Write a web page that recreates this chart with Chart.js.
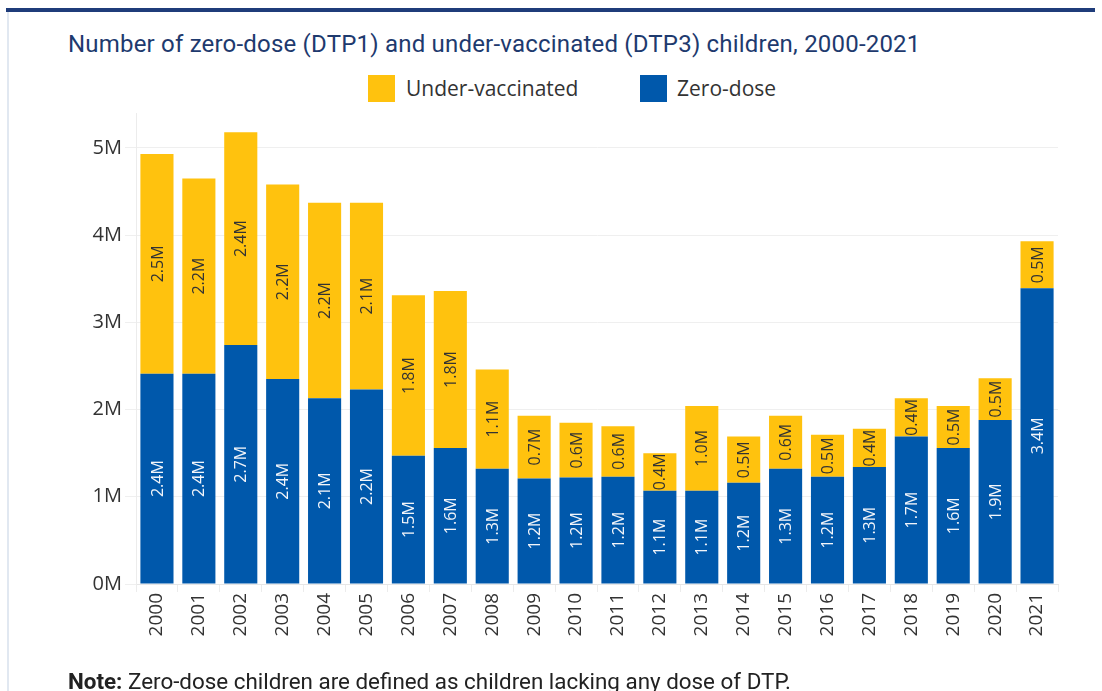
<!DOCTYPE html>
<html>
<head>
<meta charset="utf-8">
<script src="https://cdn.jsdelivr.net/npm/chart.js@4.4.1/dist/chart.umd.min.js"></script>
<style>
  body { margin: 0; background: #fff; width: 1102px; height: 691px; overflow: hidden; position: relative; }
  #topbar { position: absolute; left: 6px; top: 8px; width: 1089px; height: 4px; background: #1f3c7a; }
  #leftline { position: absolute; left: 7px; top: 12px; width: 2px; height: 680px; background: #e1e8f1; }
  #title { position: absolute; left: 68px; top: 30px; font-family: 'Roboto', sans-serif;
           font-size: 24px; letter-spacing: 0.2px; color: #1e3a6e; white-space: nowrap; }
  #legend { position: absolute; left: 368px; top: 75px; font-family: 'Open Sans', sans-serif; font-size: 21px; color: #333; }
  .box { position: absolute; top: 0; width: 27px; height: 27px; }
  .lbl { position: absolute; top: 0; line-height: 27px; white-space: nowrap; }
  #note { position: absolute; left: 68px; top: 668px; font-family: 'Roboto', sans-serif;
          font-size: 22.4px; color: #222; white-space: nowrap; }
  #wrap { position: absolute; left: 0; top: 0; width: 1102px; height: 691px; }
</style>
</head>
<body>
<div id="topbar"></div>
<div id="leftline"></div>
<div id="title">Number of zero-dose (DTP1) and under-vaccinated (DTP3) children, 2000-2021</div>
<div id="legend">
  <div class="box" style="left:0; background:#ffc20e"></div>
  <div class="lbl" style="left:38px">Under-vaccinated</div>
  <div class="box" style="left:272px; background:#0058ab"></div>
  <div class="lbl" style="left:309px">Zero-dose</div>
</div>
<div id="wrap"><canvas id="chart" width="1102" height="691"></canvas></div>
<div id="note"><b>Note:</b> Zero-dose children are defined as children lacking any dose of DTP.</div>

<script>
// data (millions of children)
var years = ["2000","2001","2002","2003","2004","2005","2006","2007","2008","2009","2010",
             "2011","2012","2013","2014","2015","2016","2017","2018","2019","2020","2021"];
var zeroDose = [2.41, 2.41, 2.74, 2.35, 2.13, 2.23, 1.47, 1.56, 1.32, 1.21, 1.22,
                1.23, 1.07, 1.07, 1.16, 1.32, 1.23, 1.34, 1.69, 1.56, 1.88, 3.39];
var underVaccinated = [2.52, 2.24, 2.44, 2.23, 2.24, 2.14, 1.84, 1.80, 1.14, 0.72, 0.63,
                       0.58, 0.43, 0.97, 0.53, 0.61, 0.48, 0.44, 0.44, 0.48, 0.48, 0.54];
var yTicks = [0, 1, 2, 3, 4, 5];

var labelColors = ["#f2f5fa", "#333333"];

// draws the value inside each bar segment, rotated like the original
var barLabels = {
  id: 'barLabels',
  afterDatasetsDraw: function(chart) {
    var ctx = chart.ctx;
    ctx.save();
    ctx.font = '16px "Open Sans", sans-serif';
    ctx.textAlign = 'center';
    ctx.textBaseline = 'middle';
    chart.data.datasets.forEach(function(ds, i) {
      var meta = chart.getDatasetMeta(i);
      ctx.fillStyle = labelColors[i];
      meta.data.forEach(function(bar, j) {
        var cy = (bar.y + bar.base) / 2;
        ctx.save();
        ctx.translate(bar.x, cy);
        ctx.rotate(-Math.PI / 2);
        ctx.fillText(ds.data[j].toFixed(1) + 'M', 0, 1);
        ctx.restore();
      });
    });
    ctx.restore();
  }
};

new Chart(document.getElementById('chart'), {
  type: 'bar',
  data: {
    labels: years,
    datasets: [
      { label: 'Zero-dose', data: zeroDose, backgroundColor: '#0058ab' },
      { label: 'Under-vaccinated', data: underVaccinated, backgroundColor: '#ffc20e' }
    ]
  },
  options: {
    responsive: false,
    animation: false,
    devicePixelRatio: 1,
    barPercentage: 0.79,
    categoryPercentage: 1.0,
    layout: { padding: { top: 113, right: 44, bottom: 0, left: 0 } },
    plugins: {
      legend: { display: false },
      title: { display: false },
      tooltip: { enabled: false }
    },
    scales: {
      x: {
        stacked: true,
        afterFit: function(s) { s.height = 107; },
        grid: { drawOnChartArea: false, drawTicks: true, tickLength: 8, color: '#ececec', offset: true },
        border: { display: true, color: '#e6e6e6' },
        ticks: {
          autoSkip: false, maxRotation: 90, minRotation: 90, padding: 1,
          color: '#333', font: { family: 'Open Sans', size: 19 }
        }
      },
      y: {
        stacked: true,
        min: 0,
        max: 5.4,
        afterFit: function(s) { s.width = 136; },
        afterBuildTicks: function(s) { s.ticks = yTicks.map(function(v) { return { value: v }; }); },
        grid: { color: '#efefef', tickLength: 11 },
        border: { display: true, color: '#ececec' },
        ticks: {
          padding: 3, color: '#333', font: { family: 'Open Sans', size: 20 },
          callback: function(v) { return v + 'M'; }
        }
      }
    }
  },
  plugins: [barLabels]
});
</script>
</body>
</html>
